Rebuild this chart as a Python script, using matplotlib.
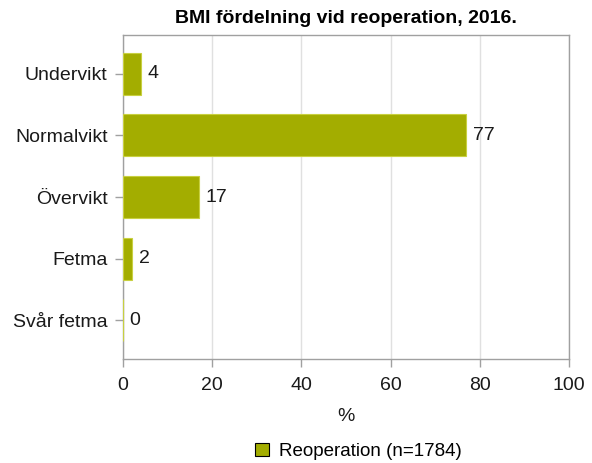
import matplotlib
matplotlib.use('Agg')
import matplotlib.pyplot as plt
from matplotlib.patches import Patch

plt.rcParams['font.family'] = ['Liberation Sans', 'DejaVu Sans']

# data
categories = ['Undervikt', 'Normalvikt', 'Övervikt', 'Fetma', 'Svår fetma']
values = [4, 77, 17, 2, 0]
series_label = 'Reoperation (n=1784)'
title = 'BMI fördelning vid reoperation, 2016.'
xticks = [0, 20, 40, 60, 80, 100]

bar_color = '#a3ad00'
frame_color = '#a0a0a0'
text_color = '#1a1a1a'

fig = plt.figure(figsize=(5.92, 4.63), dpi=100)
ax = fig.add_axes([0.2078, 0.2246, 0.7532, 0.6998])

pos = list(range(len(categories)))
ax.barh(pos, values, height=0.68, color=bar_color, edgecolor='#c8d040', linewidth=0.8, zorder=3)

for p, v in zip(pos, values):
    ax.text(v + 1.5, p, str(v), va='center', ha='left', fontsize=14, color=text_color)

ax.set_ylim(4.63, -0.63)
ax.set_xlim(0, 100)
ax.set_yticks(pos)
ax.set_yticklabels(categories, fontsize=14)
ax.set_xticks(xticks)
ax.set_xticklabels([str(t) for t in xticks], fontsize=14)
ax.xaxis.grid(True, color='#e0e0e0', linewidth=1.0, zorder=0)
ax.set_axisbelow(True)

for s in ax.spines.values():
    s.set_color(frame_color)
    s.set_linewidth(1.0)
ax.tick_params(axis='both', colors=frame_color, labelcolor=text_color, length=6, width=1.0, pad=5)
ax.tick_params(axis='x', pad=7)

ax.set_xlabel('%', fontsize=14, color=text_color, labelpad=10)
ax.set_title(title, fontsize=14, fontweight='bold', pad=9)

handles = [Patch(facecolor=bar_color, edgecolor='black', linewidth=0.8, label=series_label)]
fig.legend(handles=handles, loc='center', bbox_to_anchor=(0.605, 0.025), frameon=False,
           fontsize=13.5, handlelength=0.75, handleheight=0.75, handletextpad=0.5)

fig.savefig('out.png', dpi=100)
